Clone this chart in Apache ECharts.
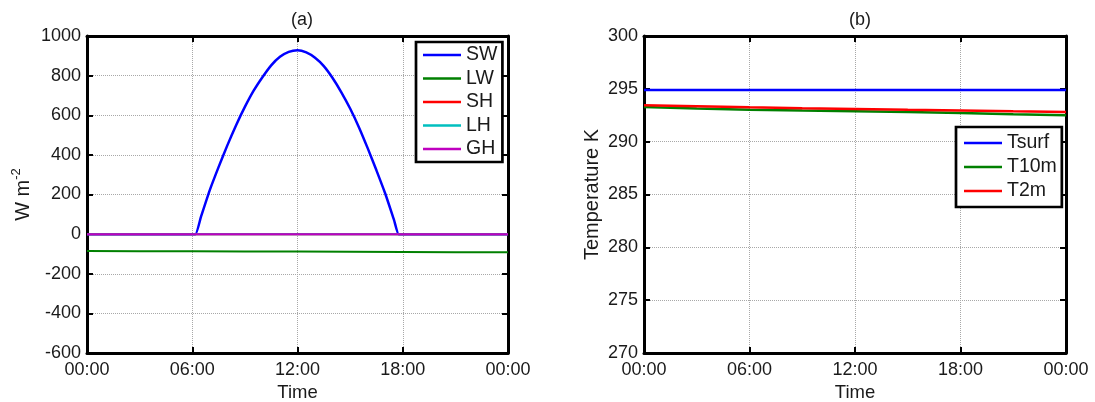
<!DOCTYPE html>
<html>
<head>
<meta charset="utf-8">
<script src="https://cdn.jsdelivr.net/npm/echarts@6/dist/echarts.min.js"></script>
<style>
  html, body { margin: 0; padding: 0; background: #fff; }
  #chart { width: 1095px; height: 402px; }
</style>
</head>
<body>
<div id="chart"></div>
<script>
// Time axis ticks (hours) and their labels
const timeTicks = [0, 6, 12, 18, 24];
const timeLabels = ['00:00', '06:00', '12:00', '18:00', '00:00'];

// (a) surface energy fluxes, W m-2
const swTime = [0, 3, 6, 6.18, 6.5, 7, 7.5, 8, 8.5, 9, 9.5, 10, 10.5, 11, 11.5, 12,
                12.5, 13, 13.5, 14, 14.5, 15, 15.5, 16, 16.5, 17, 17.5, 17.77, 18, 21, 24];
const swValues = [0, 0, 0, 0, 88, 222, 338, 448, 550, 642, 724, 792, 852, 895, 920, 928,
                  917, 890, 848, 788, 716, 634, 540, 434, 322, 205, 72, 0, 0, 0, 0];
const fluxTime = [0, 3, 6, 9, 12, 15, 18, 21, 24];
const lwValues = [-85, -86, -87, -88, -88, -89, -90, -91, -92];
const shValues = [0, 0, 0, 0, 0, 0, 0, 0, 0];
const lhValues = [0, 0, 0, 0, 0, 0, 0, 0, 0];
const ghValues = [0, 0, 0, 0, 0, 0, 0, 0, 0];

// (b) temperatures, K
const tempTime = [0, 3, 6, 9, 12, 15, 18, 21, 24];
const tsurfValues = [294.9, 294.9, 294.9, 294.9, 294.9, 294.9, 294.9, 294.9, 294.9];
const t10mValues = [293.28, 293.15, 293.03, 292.95, 292.88, 292.8, 292.72, 292.6, 292.5];
const t2mValues = [293.45, 293.35, 293.25, 293.17, 293.1, 293.02, 292.95, 292.87, 292.8];

const FONT = "'Liberation Sans', Arial, Helvetica, sans-serif";
const TXT = '#1a1a1a';
const FRAME = { show: true, onZero: false, lineStyle: { color: '#000', width: 3 } };
const TICK = { show: true, inside: true, length: 6, lineStyle: { color: '#000', width: 2 } };
const GRIDLINE = { show: true, lineStyle: { color: '#a8a8a8', type: 'dotted', width: 1 } };

function pairs(xs, ys) { return xs.map((x, i) => [x, ys[i]]); }
function timeFmt(v) {
  const i = timeTicks.indexOf(v);
  return i >= 0 ? timeLabels[i] : '';
}

function xAxes(gi) {
  return [
    {
      type: 'value', gridIndex: gi, min: 0, max: 24, interval: 6, position: 'bottom',
      name: 'Time', nameLocation: 'middle', nameGap: 29,
      nameTextStyle: { fontFamily: FONT, fontSize: 18.5, color: TXT },
      axisLine: FRAME, axisTick: TICK,
      axisLabel: { formatter: timeFmt, fontFamily: FONT, fontSize: 18, color: TXT, margin: 8 },
      splitLine: GRIDLINE
    },
    {
      type: 'value', gridIndex: gi, min: 0, max: 24, interval: 6, position: 'top',
      axisLine: FRAME, axisTick: TICK,
      axisLabel: { show: false }, splitLine: { show: false }
    }
  ];
}

function yAxes(gi, min, max, interval, name, nameGap) {
  return [
    {
      type: 'value', gridIndex: gi, min: min, max: max, interval: interval, position: 'left',
      name: name, nameLocation: 'middle', nameGap: nameGap, nameRotate: 90,
      nameTextStyle: {
        fontFamily: FONT, fontSize: 20, color: TXT,
        rich: {
          a: { fontFamily: FONT, fontSize: 20, color: TXT, lineHeight: 26 },
          s: { fontFamily: FONT, fontSize: 13, color: TXT, verticalAlign: 'top', lineHeight: 26 }
        }
      },
      axisLine: FRAME, axisTick: TICK,
      axisLabel: { formatter: v => String(v), fontFamily: FONT, fontSize: 18, color: TXT, margin: 6 },
      splitLine: GRIDLINE
    },
    {
      type: 'value', gridIndex: gi, min: min, max: max, interval: interval, position: 'right',
      axisLine: FRAME, axisTick: TICK,
      axisLabel: { show: false }, splitLine: { show: false }
    }
  ];
}

function line(name, xi, yi, data, color, width, smooth) {
  return {
    name: name, type: 'line', xAxisIndex: xi, yAxisIndex: yi, data: data,
    symbol: 'none', smooth: smooth || false,
    lineStyle: { color: color, width: width }, itemStyle: { color: color },
    animation: false, z: 3
  };
}

const legendBase = {
  orient: 'vertical', icon: 'rect', itemWidth: 38, itemHeight: 2.5,
  backgroundColor: '#fff', borderColor: '#000', borderWidth: 2.7,
  textStyle: { fontFamily: FONT, fontSize: 19.5, color: TXT, lineHeight: 20 },
  selectedMode: false, z: 10
};

const chart = echarts.init(document.getElementById('chart'), null, { renderer: 'canvas' });
chart.setOption({
  backgroundColor: '#fff',
  animation: false,
  title: [
    { text: '(a)', left: 297, top: 6, textAlign: 'center',
      textStyle: { fontFamily: FONT, fontSize: 18, fontWeight: 'normal', color: TXT } },
    { text: '(b)', left: 855, top: 6, textAlign: 'center',
      textStyle: { fontFamily: FONT, fontSize: 18, fontWeight: 'normal', color: TXT } }
  ],
  grid: [
    { left: 87, top: 36, width: 421, height: 317, containLabel: false, outerBoundsMode: 'none' },
    { left: 644, top: 36, width: 422, height: 317, containLabel: false, outerBoundsMode: 'none' }
  ],
  xAxis: [...xAxes(0), ...xAxes(1)],
  yAxis: [
    ...yAxes(0, -600, 1000, 200, '{a|W m}{s|-2}', 51),
    ...yAxes(1, 270, 300, 5, 'Temperature K', 42)
  ],
  legend: [
    Object.assign({}, legendBase, {
      left: 416, top: 42, itemGap: 3.5, padding: [3, 5, 3, 7],
      data: ['SW', 'LW', 'SH', 'LH', 'GH']
    }),
    Object.assign({}, legendBase, {
      left: 956, top: 127, itemGap: 4, padding: [6, 5, 6, 8],
      data: ['Tsurf', 'T10m', 'T2m']
    })
  ],
  series: [
    line('SW', 0, 0, pairs(swTime, swValues), '#0000ff', 2.5, 0.2),
    line('LW', 0, 0, pairs(fluxTime, lwValues), '#008000', 2),
    line('SH', 0, 0, pairs(fluxTime, shValues), '#ff0000', 2),
    line('LH', 0, 0, pairs(fluxTime, lhValues), '#00bfbf', 2),
    line('GH', 0, 0, pairs(fluxTime, ghValues), '#bf00bf', 2),
    line('Tsurf', 2, 2, pairs(tempTime, tsurfValues), '#0000ff', 2.5),
    line('T10m', 2, 2, pairs(tempTime, t10mValues), '#008000', 2.5),
    line('T2m', 2, 2, pairs(tempTime, t2mValues), '#ff0000', 2.5)
  ]
});
</script>
</body>
</html>
